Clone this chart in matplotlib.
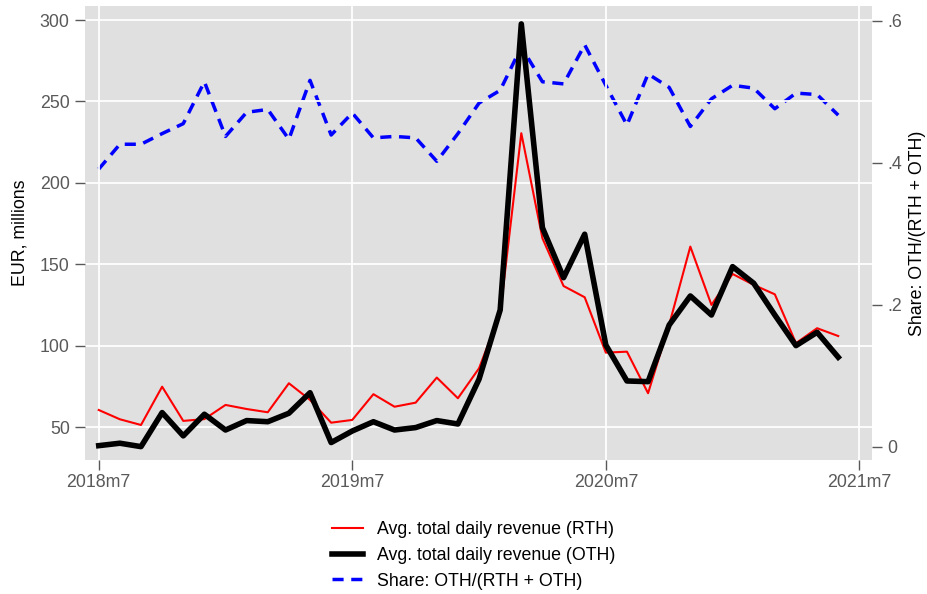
import numpy as np
import matplotlib
matplotlib.use("Agg")
import matplotlib.pyplot as plt

plt.rcParams['font.family'] = ['Liberation Sans', 'DejaVu Sans']

# monthly data, 2018m7 .. 2021m6
rth = [60.6, 54.9, 51.4, 74.9, 53.9, 55.0, 63.7, 61.2, 59.2, 77.0, 66.8, 52.8,
       54.5, 70.3, 62.6, 65.1, 80.5, 67.8, 86.2, 120.0, 230.5, 166.0, 136.7, 129.8,
       95.8, 96.4, 70.9, 113.0, 160.9, 125.1, 144.1, 137.4, 131.6, 101.6, 110.8, 106.0]
oth = [38.7, 40.2, 38.1, 59.0, 44.7, 58.0, 48.3, 54.1, 53.4, 58.6, 71.2, 40.6,
       47.7, 53.4, 48.3, 49.8, 54.1, 52.0, 79.5, 122.0, 297.6, 172.5, 141.8, 168.5,
       100.5, 78.4, 78.0, 112.8, 130.6, 118.9, 148.6, 138.4, 118.9, 100.1, 108.3, 93.0]
share = [0.391, 0.426, 0.426, 0.441, 0.455, 0.514, 0.437, 0.471, 0.475, 0.433, 0.516, 0.439,
         0.470, 0.435, 0.437, 0.435, 0.402, 0.441, 0.484, 0.502, 0.563, 0.514, 0.511, 0.566,
         0.509, 0.453, 0.525, 0.506, 0.451, 0.490, 0.509, 0.505, 0.476, 0.498, 0.496, 0.467]

xtick_pos = [0, 12, 24, 36]
xtick_labels = ['2018m7', '2019m7', '2020m7', '2021m7']
left_ticks = [50, 100, 150, 200, 250, 300]
right_ticks = [0, 0.2, 0.4, 0.6]
right_labels = ['0', '.2', '.4', '.6']

months = np.arange(len(rth))
tick_gray = '#595959'
bg = '#e0e0e0'
fs = 12.8

fig = plt.figure(figsize=(9.27, 5.94), dpi=100)
ax = fig.add_axes([0.0917, 0.2256, 0.8490, 0.7643])
ax2 = ax.twinx()

# left axis on top so the revenue lines cover the share line
ax.set_zorder(2)
ax.patch.set_visible(False)
ax2.patch.set_visible(True)
ax2.patch.set_facecolor(bg)

l1, = ax.plot(months, rth, color='red', lw=1.5, label='Avg. total daily revenue (RTH)')
l2, = ax.plot(months, oth, color='black', lw=4, label='Avg. total daily revenue (OTH)')
l3, = ax2.plot(months, share, color='blue', lw=2.5, ls=(0, (3.2, 2.2)),
               label='Share: OTH/(RTH + OTH)')

ax.set_xlim(-0.65, 36.6)
ax.set_ylim(29.9, 308.6)
ax2.set_ylim(-0.0187, 0.6207)

ax.set_xticks(xtick_pos)
ax.set_xticklabels(xtick_labels)
ax.set_yticks(left_ticks)
ax2.set_yticks(right_ticks)
ax2.set_yticklabels(right_labels)

ax.grid(True, color='white', lw=1.3)
ax2.grid(False)

for a in (ax, ax2):
    for s in a.spines.values():
        s.set_visible(False)
    a.tick_params(direction='out', length=7, width=1, color=tick_gray,
                  labelcolor=tick_gray, labelsize=fs, pad=4)
ax.tick_params(axis='x', pad=3)

ax.set_ylabel('EUR, millions', fontsize=fs, labelpad=8)
ax2.set_ylabel('Share: OTH/(RTH + OTH)', fontsize=fs, labelpad=5)

fig.legend(handles=[l1, l2, l3], loc='upper center', bbox_to_anchor=(0.511, 0.138),
           frameon=False, fontsize=fs, handlelength=1.75, handletextpad=0.8,
           labelspacing=0.5, borderpad=0)

fig.savefig('out.png', dpi=100)
